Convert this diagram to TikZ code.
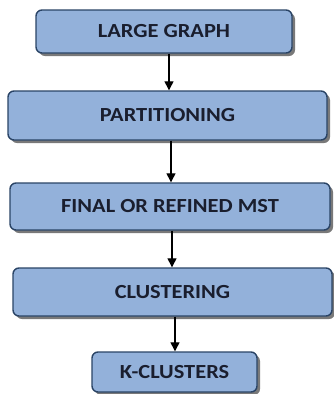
\documentclass[tikz,border=0pt]{standalone}
\usepackage{fontspec}
\setmainfont{Carlito}
\usepackage{tikz}
\usetikzlibrary{shadows, arrows.meta}
\definecolor{boxblue}{HTML}{93B1DA}
\definecolor{boxline}{HTML}{2A4466}
\definecolor{boxtext}{HTML}{1A1E2E}

\begin{document}
\begin{tikzpicture}[x=1pt, y=1pt,
        stagebox/.style={draw=boxline, line width=1.4pt, fill=boxblue, rounded corners=6pt,
            drop shadow={shadow xshift=3pt, shadow yshift=-3pt, fill=black!70, opacity=0.75},
            font=\fontsize{20}{24}\selectfont\bfseries, text=boxtext, inner sep=0pt},
        flow/.style={-{Triangle[length=9pt, width=9pt]}, line width=1.3pt}]
        \useasboundingbox (0, 0) rectangle (334, -394);

        % Draw the stages
        \node[stagebox, minimum width=256, minimum height=43] (graph) at (164, -31.5) {\scalebox{1.12}[1]{LARGE GRAPH}};
        \node[stagebox, minimum width=319, minimum height=49] (part) at (167.5, -115.5) {\scalebox{1.12}[1]{PARTITIONING}};
        \node[stagebox, minimum width=320, minimum height=47] (mst) at (170, -206.5) {\scalebox{1.12}[1]{FINAL OR REFINED MST}};
        \node[stagebox, minimum width=319, minimum height=48] (clust) at (172.5, -292) {\scalebox{1.12}[1]{CLUSTERING}};
        \node[stagebox, minimum width=165, minimum height=40] (kclust) at (174.5, -372) {\scalebox{1.12}[1]{K-CLUSTERS}};

        % Connect the stages
        \draw[flow] (graph.south -| 169, 0) -- (part.north -| 169, 0);
        \draw[flow] (part.south -| 171, 0) -- (mst.north -| 171, 0);
        \draw[flow] (mst.south -| 172, 0) -- (clust.north -| 172, 0);
        \draw[flow] (clust.south -| 175, 0) -- (kclust.north -| 175, 0);
    \end{tikzpicture}
\end{document}
